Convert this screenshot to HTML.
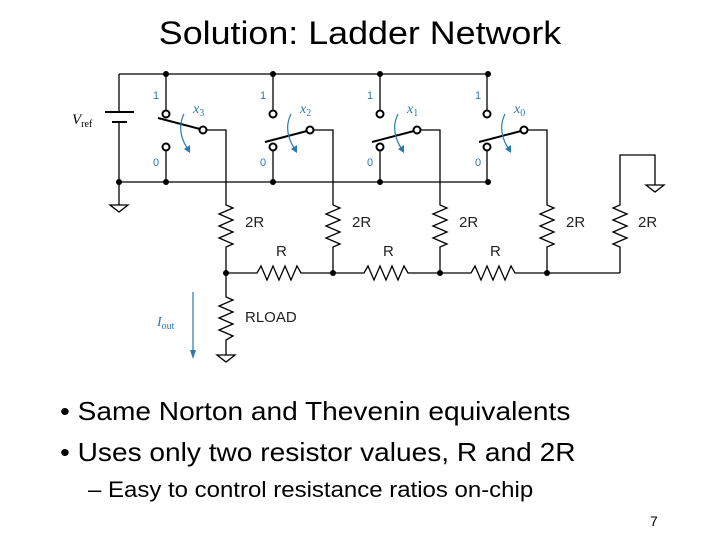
<!DOCTYPE html>
<html><head><style>
body{margin:0;width:720px;height:540px;background:#fff;overflow:hidden;font-family:"Liberation Sans",sans-serif;}
.t{position:absolute;white-space:nowrap;color:#000;transform-origin:0 0}
</style></head><body>
<div class="t" style="left:0;width:720px;text-align:center;top:15px;font-size:32px;transform:scaleX(1.12);transform-origin:360px 0;">Solution: Ladder Network</div>
<svg width="720" height="540" style="position:absolute;left:0;top:0" font-family="Liberation Sans, sans-serif">
<g stroke="#000" stroke-width="1.3" fill="none">
<polyline points="119,74 489,74"/><polyline points="119,182 489,182"/>
<line x1="119" y1="74" x2="119" y2="112"/><line x1="119" y1="122" x2="119" y2="205"/>
<line x1="105" y1="112" x2="134" y2="112" stroke-width="2"/><line x1="112" y1="122" x2="127" y2="122" stroke-width="2"/>
<polygon points="110,205 128,205 119,212"/>
<g id="s">
<line x1="166" y1="74" x2="166" y2="110"/><line x1="166" y1="150" x2="166" y2="182"/>
<circle cx="166" cy="114" r="3.5" fill="#fff" stroke-width="2"/><circle cx="166" cy="147" r="3.5" fill="#fff" stroke-width="2"/>
<circle cx="203" cy="130" r="3.5" fill="#fff" stroke-width="2"/>
<polyline points="207,130 226,130 226,203"/>
</g>
<use href="#s" x="107"/><use href="#s" x="214"/><use href="#s" x="321"/>
<line x1="158" y1="118" x2="200" y2="129" stroke-width="2"/>
<line x1="265" y1="142" x2="307" y2="131" stroke-width="2"/>
<line x1="372" y1="142" x2="414" y2="131" stroke-width="2"/>
<line x1="479" y1="142" x2="521" y2="131" stroke-width="2"/>
<g id="r"><polyline points="226,203 226,205 233,208 219,214 233,220 219,226 233,232 219,238 233,244 226,247 226,273"/></g>
<use href="#r" x="107"/><use href="#r" x="214"/><use href="#r" x="321"/>
<polyline points="620,273 620,247 613,244 627,238 613,232 627,226 613,220 627,214 613,208 620,205 620,155 655,155 655,185"/>
<polygon points="646,185 664,185 655,192"/>
<g id="h"><polyline points="226,273 257,273 261,266 267,280 273,266 279,280 285,266 291,280 297,266 301,273 333,273"/></g>
<use href="#h" x="107"/><use href="#h" x="214"/>
<line x1="547" y1="273" x2="620" y2="273"/>
<polyline points="226,273 226,297 233,300 219,306 233,312 219,318 233,324 219,330 233,336 226,340 226,355"/>
<polygon points="217,355 235,355 226,362"/>
</g>
<g fill="#000">
<circle cx="166" cy="74" r="3"/><circle cx="273" cy="74" r="3"/><circle cx="380" cy="74" r="3"/><circle cx="488" cy="74" r="3"/>
<circle cx="119" cy="182" r="3"/><circle cx="166" cy="182" r="3"/><circle cx="273" cy="182" r="3"/><circle cx="380" cy="182" r="3"/><circle cx="488" cy="182" r="3"/>
<circle cx="226" cy="273" r="3"/><circle cx="333" cy="273" r="3"/><circle cx="440" cy="273" r="3"/><circle cx="547" cy="273" r="3"/>
</g>
<g fill="#2a7ab0" font-size="11">
<text x="153" y="99">1</text><text x="153" y="166">0</text>
<text x="260" y="99">1</text><text x="260" y="166">0</text>
<text x="367" y="99">1</text><text x="367" y="166">0</text>
<text x="475" y="99">1</text><text x="475" y="166">0</text>
<g font-family="Liberation Serif, serif" font-style="italic" font-size="14">
<text x="193" y="113">x<tspan font-size="10" font-style="normal" dy="3">3</tspan></text>
<text x="300" y="113">x<tspan font-size="10" font-style="normal" dy="3">2</tspan></text>
<text x="407" y="113">x<tspan font-size="10" font-style="normal" dy="3">1</tspan></text>
<text x="514" y="113">x<tspan font-size="10" font-style="normal" dy="3">0</tspan></text>
<text x="157" y="326">I<tspan font-size="10" font-style="normal" dy="3">out</tspan></text>
</g>
</g>
<g stroke="#2a7ab0" stroke-width="1.2" fill="none">
<path d="M184,114 Q176,130 187,148"/><path d="M291,114 Q283,130 294,148"/><path d="M398,114 Q390,130 401,148"/><path d="M505,114 Q497,130 508,148"/>
<line x1="193" y1="292" x2="193" y2="352"/>
</g>
<g fill="#2a7ab0">
<polygon points="184,149 190,145 190,153"/><polygon points="291,149 297,145 297,153"/><polygon points="398,149 404,145 404,153"/><polygon points="505,149 511,145 511,153"/>
<polygon points="190,350 196,350 193,359"/>
</g>
<text x="72" y="124" font-family="Liberation Serif, serif" font-style="italic" font-size="15">V<tspan font-size="10" font-style="normal" dy="3">ref</tspan></text>
<g font-size="15" fill="#222">
<text x="245" y="227">2R</text><text x="352" y="227">2R</text><text x="459" y="227">2R</text><text x="566" y="227">2R</text><text x="638" y="227">2R</text>
<text x="276" y="256">R</text><text x="383" y="256">R</text><text x="490" y="256">R</text>
<text x="245" y="322">RLOAD</text>
</g>
</svg>
<div class="t" style="left:60px;top:396px;font-size:26px;transform:scaleX(1.08);">• Same Norton and Thevenin equivalents</div>
<div class="t" style="left:60px;top:437px;font-size:26px;transform:scaleX(1.08);">• Uses only two resistor values, R and 2R</div>
<div class="t" style="left:88px;top:477px;font-size:22px;transform:scaleX(1.09);">– Easy to control resistance ratios on-chip</div>
<div class="t" style="left:650px;top:513px;font-size:14px;">7</div>
</body></html>
